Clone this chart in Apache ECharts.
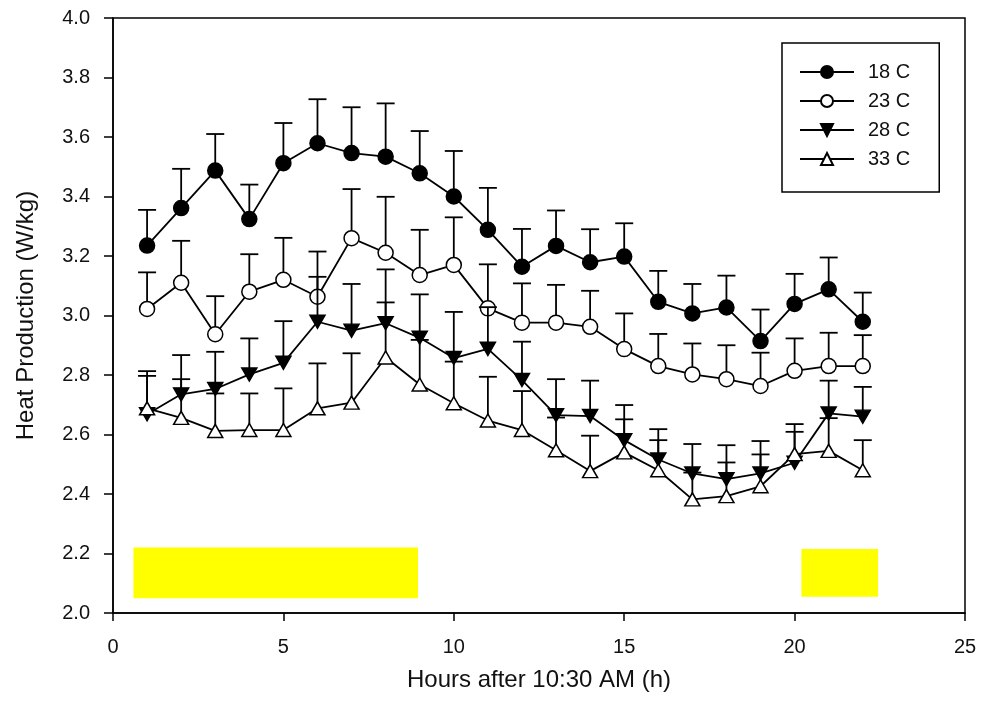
<!DOCTYPE html>
<html>
<head>
<meta charset="utf-8">
<script src="https://cdn.jsdelivr.net/npm/echarts@6/dist/echarts.min.js"></script>
<style>
  html, body { margin: 0; padding: 0; background: #fff; }
  #chart { width: 982px; height: 712px; }
</style>
</head>
<body>
<div id="chart"></div>
<script>
// hours after 10:30 AM
const hours = [1, 2, 3, 4, 5, 6, 7, 8, 9, 10, 11, 12, 13, 14, 15, 16, 17, 18, 19, 20, 21, 22]

// mean heat production (W/kg) and upper error (SE) per temperature
const heat18 = [3.235, 3.361, 3.487, 3.324, 3.512, 3.579, 3.546, 3.534, 3.478, 3.40, 3.288, 3.164, 3.234, 3.179, 3.198, 3.046, 3.007, 3.027, 2.914, 3.039, 3.088, 2.979]
const err18 = [0.12, 0.132, 0.123, 0.116, 0.135, 0.148, 0.154, 0.179, 0.142, 0.153, 0.141, 0.127, 0.119, 0.111, 0.112, 0.104, 0.099, 0.107, 0.106, 0.101, 0.107, 0.098]

const heat23 = [3.022, 3.11, 2.937, 3.08, 3.12, 3.063, 3.26, 3.211, 3.136, 3.17, 3.024, 2.976, 2.976, 2.962, 2.887, 2.83, 2.802, 2.786, 2.763, 2.814, 2.83, 2.83]
const err23 = [0.123, 0.141, 0.128, 0.126, 0.141, 0.152, 0.165, 0.188, 0.152, 0.16, 0.148, 0.132, 0.127, 0.121, 0.12, 0.108, 0.104, 0.114, 0.112, 0.109, 0.112, 0.104]

const heat28 = [2.668, 2.735, 2.753, 2.802, 2.841, 2.979, 2.949, 2.974, 2.925, 2.857, 2.888, 2.783, 2.665, 2.662, 2.581, 2.516, 2.469, 2.45, 2.469, 2.505, 2.671, 2.66]
const err28 = [0.129, 0.132, 0.125, 0.121, 0.14, 0.151, 0.157, 0.181, 0.146, 0.155, 0.14, 0.129, 0.121, 0.119, 0.118, 0.102, 0.099, 0.114, 0.109, 0.104, 0.11, 0.10]

const heat33 = [2.688, 2.656, 2.612, 2.615, 2.615, 2.688, 2.707, 2.859, 2.768, 2.705, 2.647, 2.615, 2.547, 2.477, 2.54, 2.48, 2.382, 2.393, 2.426, 2.534, 2.545, 2.48]
const err33 = [0.125, 0.13, 0.126, 0.123, 0.14, 0.151, 0.166, 0.185, 0.15, 0.14, 0.147, 0.131, 0.11, 0.119, 0.111, 0.101, 0.09, 0.113, 0.107, 0.101, 0.11, 0.101]

// yellow bars near the bottom (x range, y range)
const bandStart = [0.6, 20.2]
const bandEnd = [8.95, 22.45]
const bandLow = [2.05, 2.055]
const bandHigh = [2.22, 2.215]

const FONT = 'Liberation Sans, Arial, sans-serif'
const TEXT = '#111'

const chart = echarts.init(document.getElementById('chart'), null, { renderer: 'canvas' })

// vertical error bar (upper side only) with a cap
const errorBars = (name, values, errors, z) => ({
  type: 'custom',
  name: name,
  z: z,
  silent: true,
  data: hours.map((h, i) => [h, values[i], values[i] + errors[i]]),
  encode: { x: 0, y: [1, 2] },
  renderItem: (params, api) => {
    const base = api.coord([api.value(0), api.value(1)])
    const top = api.coord([api.value(0), api.value(2)])
    const style = { stroke: '#000', lineWidth: 1.8 }
    return {
      type: 'group',
      children: [
        { type: 'line', shape: { x1: base[0], y1: base[1], x2: top[0], y2: top[1] }, style },
        { type: 'line', shape: { x1: top[0] - 9, y1: top[1], x2: top[0] + 9, y2: top[1] }, style }
      ]
    }
  }
})

const lineSeries = (name, values, symbol, fill, rotate, size, z) => ({
  type: 'line',
  name: name,
  z: z,
  data: hours.map((h, i) => [h, values[i]]),
  symbol: symbol,
  symbolSize: size,
  symbolRotate: rotate,
  showAllSymbol: true,
  lineStyle: { color: '#000', width: 1.8 },
  itemStyle: { color: fill, borderColor: '#000', borderWidth: 1.5 }
})

const option = {
  animation: false,
  backgroundColor: '#fff',
  grid: {
    left: 113,
    right: 17,
    top: 18,
    bottom: 99,
    show: true,
    borderColor: '#000',
    borderWidth: 1.5,
    backgroundColor: 'transparent'
  },
  legend: {
    data: ['18 C', '23 C', '28 C', '33 C'],
    orient: 'vertical',
    left: 782,
    top: 43,
    itemWidth: 54,
    itemHeight: 15,
    itemGap: 9,
    padding: [19, 29, 23, 17],
    borderColor: '#000',
    borderWidth: 1.5,
    selectedMode: false,
    textStyle: { fontFamily: FONT, fontSize: 20, color: TEXT, padding: [0, 0, 0, 9] }
  },
  xAxis: {
    type: 'value',
    min: 0,
    max: 25,
    interval: 5,
    name: 'Hours after 10:30 AM (h)',
    nameLocation: 'middle',
    nameGap: 55,
    nameTextStyle: { fontFamily: FONT, fontSize: 24, color: TEXT },
    axisLine: { onZero: false, lineStyle: { color: '#000', width: 1.5 } },
    axisTick: { inside: false, length: 8, lineStyle: { color: '#000', width: 1.5 } },
    axisLabel: { margin: 24, fontFamily: FONT, fontSize: 20, color: TEXT },
    splitLine: { show: false }
  },
  yAxis: {
    type: 'value',
    min: 2.0,
    max: 4.0,
    interval: 0.2,
    name: 'Heat Production (W/kg)',
    nameLocation: 'middle',
    nameGap: 75,
    nameTextStyle: { fontFamily: FONT, fontSize: 24, color: TEXT },
    axisLine: { onZero: false, lineStyle: { color: '#000', width: 1.5 } },
    axisTick: { inside: false, length: 9, lineStyle: { color: '#000', width: 1.5 } },
    axisLabel: {
      margin: 23,
      fontFamily: FONT,
      fontSize: 20,
      color: TEXT,
      formatter: v => v.toFixed(1)
    },
    splitLine: { show: false }
  },
  series: [
    {
      type: 'custom',
      name: 'light period',
      z: 1,
      silent: true,
      data: bandStart.map((s, i) => [s, bandEnd[i], bandLow[i], bandHigh[i]]),
      encode: { x: [0, 1], y: [2, 3] },
      renderItem: (params, api) => {
        const p1 = api.coord([api.value(0), api.value(3)])
        const p2 = api.coord([api.value(1), api.value(2)])
        return {
          type: 'rect',
          shape: { x: p1[0], y: p1[1], width: p2[0] - p1[0], height: p2[1] - p1[1] },
          style: { fill: '#ffff00' }
        }
      }
    },
    errorBars('18 C error', heat18, err18, 3),
    lineSeries('18 C', heat18, 'circle', '#000', 0, 15, 4),
    errorBars('23 C error', heat23, err23, 5),
    lineSeries('23 C', heat23, 'circle', '#fff', 0, 15, 6),
    errorBars('28 C error', heat28, err28, 7),
    lineSeries('28 C', heat28, 'triangle', '#000', 180, [15, 13], 8),
    errorBars('33 C error', heat33, err33, 9),
    lineSeries('33 C', heat33, 'triangle', '#fff', 0, [15, 13], 10)
  ]
}

chart.setOption(option)
</script>
</body>
</html>
